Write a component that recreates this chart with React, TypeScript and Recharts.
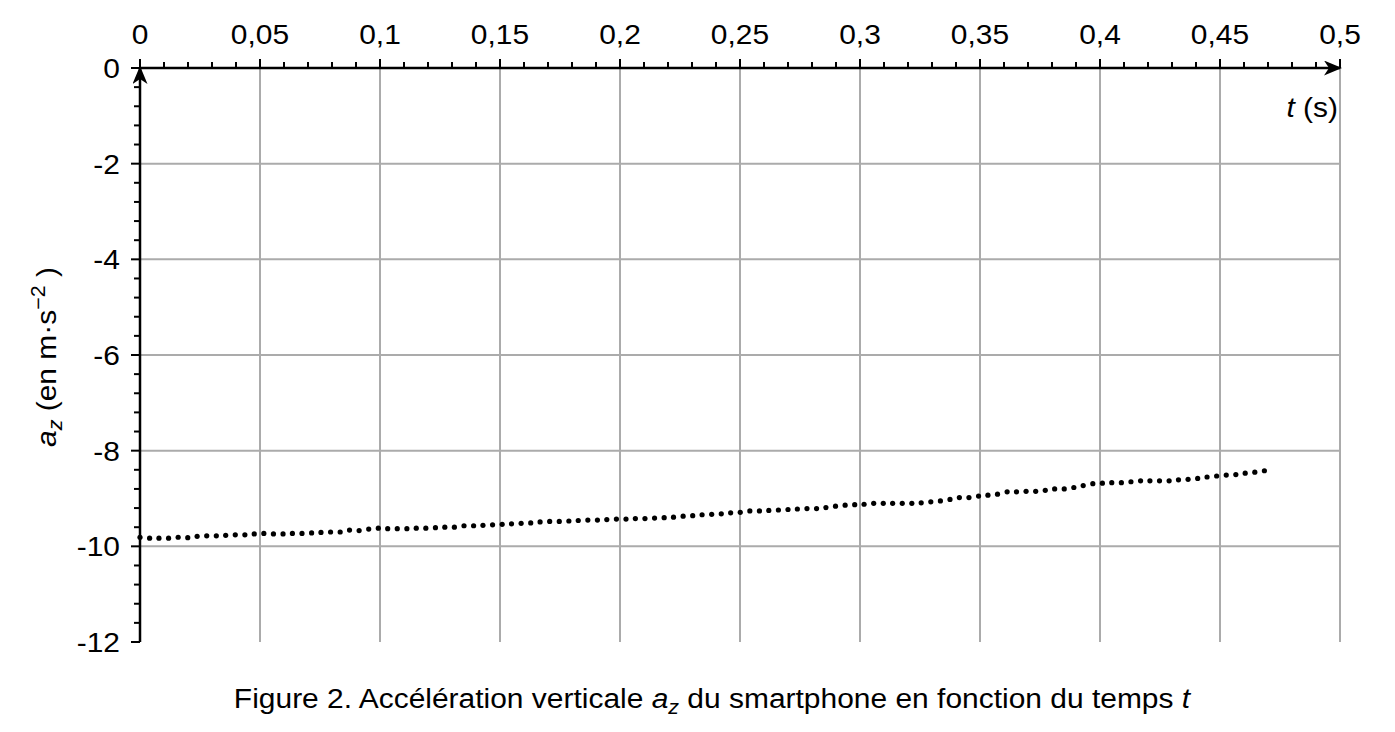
import { ScatterChart, Scatter, XAxis, YAxis, CartesianGrid } from "recharts";

// sample times (s)
const timeS = [
  0, 0.004, 0.0079, 0.0119, 0.0159, 0.0199, 0.0238, 0.0278, 0.0318, 0.0357,
  0.0397, 0.0437, 0.0476, 0.0516, 0.0556, 0.0596, 0.0635, 0.0675, 0.0715, 0.0754,
  0.0794, 0.0834, 0.0873, 0.0913, 0.0953, 0.0993, 0.1032, 0.1072, 0.1112, 0.1151,
  0.1191, 0.1231, 0.127, 0.131, 0.135, 0.139, 0.1429, 0.1469, 0.1509, 0.1548,
  0.1588, 0.1628, 0.1667, 0.1707, 0.1747, 0.1787, 0.1826, 0.1866, 0.1906, 0.1945,
  0.1985, 0.2025, 0.2064, 0.2104, 0.2144, 0.2184, 0.2223, 0.2263, 0.2303, 0.2342,
  0.2382, 0.2422, 0.2461, 0.2501, 0.2541, 0.2581, 0.262, 0.266, 0.27, 0.2739,
  0.2779, 0.2819, 0.2858, 0.2898, 0.2938, 0.2978, 0.3017, 0.3057, 0.3097, 0.3136,
  0.3176, 0.3216, 0.3255, 0.3295, 0.3335, 0.3375, 0.3414, 0.3454, 0.3494, 0.3533,
  0.3573, 0.3613, 0.3652, 0.3692, 0.3732, 0.3772, 0.3811, 0.3851, 0.3891, 0.393,
  0.397, 0.401, 0.4049, 0.4089, 0.4129, 0.4169, 0.4208, 0.4248, 0.4288, 0.4327,
  0.4367, 0.4407, 0.4446, 0.4486, 0.4526, 0.4566, 0.4605, 0.4645, 0.4685,
];

// vertical acceleration a_z (m/s²)
const azValues = [
  -9.81, -9.83, -9.83, -9.83, -9.81, -9.82, -9.79, -9.78, -9.78, -9.77,
  -9.76, -9.76, -9.74, -9.73, -9.74, -9.74, -9.73, -9.73, -9.72, -9.71,
  -9.7, -9.7, -9.66, -9.67, -9.64, -9.62, -9.63, -9.63, -9.63, -9.62,
  -9.62, -9.61, -9.6, -9.6, -9.57, -9.57, -9.56, -9.55, -9.54, -9.53,
  -9.52, -9.51, -9.49, -9.48, -9.48, -9.47, -9.46, -9.45, -9.45, -9.44,
  -9.43, -9.43, -9.42, -9.42, -9.41, -9.4, -9.39, -9.37, -9.36, -9.34,
  -9.33, -9.32, -9.3, -9.29, -9.26, -9.26, -9.25, -9.24, -9.23, -9.22,
  -9.21, -9.21, -9.19, -9.16, -9.14, -9.13, -9.12, -9.1, -9.1, -9.1,
  -9.1, -9.1, -9.09, -9.07, -9.05, -9.02, -8.98, -8.98, -8.95, -8.93,
  -8.91, -8.86, -8.86, -8.85, -8.85, -8.83, -8.8, -8.8, -8.77, -8.73,
  -8.69, -8.68, -8.67, -8.67, -8.65, -8.63, -8.63, -8.63, -8.63, -8.61,
  -8.6, -8.58, -8.55, -8.53, -8.51, -8.5, -8.47, -8.45, -8.42,
];

const timeMajorTicks = [0, 0.05, 0.1, 0.15, 0.2, 0.25, 0.3, 0.35, 0.4, 0.45, 0.5];
const azMajorTicks = [0, -2, -4, -6, -8, -10, -12];
const azGridValues = [-2, -4, -6, -8, -10];

// minor graduations: 0.01 s on t, 0.4 m/s² on a_z
const timeAllTicks = Array.from({ length: 51 }, (_, k) => k / 100);
const azAllTicks = Array.from({ length: 31 }, (_, k) => -(k * 4) / 10);

const data = timeS.map((t, i) => ({ t, az: azValues[i] }));

const FONT = "'Liberation Sans', Arial, sans-serif";
const FS = 28;
const SX = 1.07; // the original text runs a bit wider than Arial

const fmt = (v: number) => String(v).replace(".", ",");

const TimeTick = (props: any) => {
  const { x, y, payload } = props;
  const v = payload.value;
  const major = timeMajorTicks.some((m) => Math.abs(m - v) < 1e-6);
  return (
    <g>
      <line x1={x} y1={y} x2={x} y2={y - (major ? 9 : 6)} stroke="#000" strokeWidth={2} />
      {major && (
        <text transform={`translate(${x},${y - 24}) scale(${SX},1)`} textAnchor="middle"
          fontSize={FS} fontFamily={FONT} fill="#000">
          {fmt(v)}
        </text>
      )}
    </g>
  );
};

const AzTick = (props: any) => {
  const { x, y, payload } = props;
  const v = payload.value;
  const major = azMajorTicks.some((m) => Math.abs(m - v) < 1e-6);
  return (
    <g>
      <line x1={x} y1={y} x2={x - (major ? 9 : 6)} y2={y} stroke="#000" strokeWidth={2} />
      {major && (
        <text transform={`translate(${x - 20},${y + 10}) scale(${SX},1)`} textAnchor="end"
          fontSize={FS} fontFamily={FONT} fill="#000">
          {String(v)}
        </text>
      )}
    </g>
  );
};

const Dot = (props: any) => <circle cx={props.cx} cy={props.cy} r={2.6} fill="#000" />;

export default function App() {
  return (
    <div style={{ position: "absolute", left: 0, top: 0, width: 1395, height: 732, background: "#fff" }}>
      <svg width={0} height={0} style={{ position: "absolute" }}>
        <defs>
          <marker id="arrowHead" viewBox="0 0 18 15" markerWidth={18} markerHeight={15}
            refX={16} refY={7.5} orient="auto-start-reverse" markerUnits="userSpaceOnUse">
            <path d="M0,0 L18,7.5 L0,15 L5,7.5 Z" fill="#000" />
          </marker>
        </defs>
      </svg>

      <ScatterChart width={1395} height={732} margin={{ top: 8, right: 55, bottom: 90, left: 40 }}>
        <CartesianGrid
          stroke="#ababab"
          strokeWidth={2}
          horizontalValues={azGridValues}
          verticalValues={timeMajorTicks}
        />
        <XAxis
          dataKey="t"
          type="number"
          orientation="top"
          height={60}
          domain={[0, 0.5]}
          ticks={timeAllTicks}
          interval={0}
          tickSize={0}
          tickMargin={0}
          tickLine={false}
          tick={<TimeTick />}
          axisLine={{ stroke: "#000", strokeWidth: 2.5, markerEnd: "url(#arrowHead)" }}
        />
        <YAxis
          dataKey="az"
          type="number"
          width={100}
          domain={[-12, 0]}
          ticks={azAllTicks}
          interval={0}
          tickSize={0}
          tickMargin={0}
          tickLine={false}
          tick={<AzTick />}
          axisLine={{ stroke: "#000", strokeWidth: 2.5, markerStart: "url(#arrowHead)" }}
        />
        <Scatter data={data} shape={<Dot />} isAnimationActive={false} />
      </ScatterChart>

      <svg width={1395} height={732} style={{ position: "absolute", left: 0, top: 0, pointerEvents: "none" }}>
        <text transform={`translate(1338,117) scale(${SX},1)`} textAnchor="end" fontSize={FS} fontFamily={FONT}>
          <tspan fontStyle="italic">t</tspan> (s)
        </text>
        <text transform={`translate(56,357) rotate(-90) scale(${SX},1)`} textAnchor="middle" fontSize={FS} fontFamily={FONT}>
          <tspan fontStyle="italic">a</tspan>
          <tspan fontStyle="italic" fontSize={20} dy={6}>z</tspan>
          <tspan dy={-6}> (en m·s</tspan>
          <tspan fontSize={20} dy={-11}>−2</tspan>
          <tspan dy={11}> )</tspan>
        </text>
        <text transform={`translate(712,708) scale(${SX},1)`} textAnchor="middle" fontSize={FS} fontFamily={FONT}>
          Figure 2. Accélération verticale <tspan fontStyle="italic">a</tspan>
          <tspan fontStyle="italic" fontSize={20} dy={6}>z</tspan>
          <tspan dy={-6}> du smartphone en fonction du temps </tspan>
          <tspan fontStyle="italic">t</tspan>
        </text>
      </svg>
    </div>
  );
}
